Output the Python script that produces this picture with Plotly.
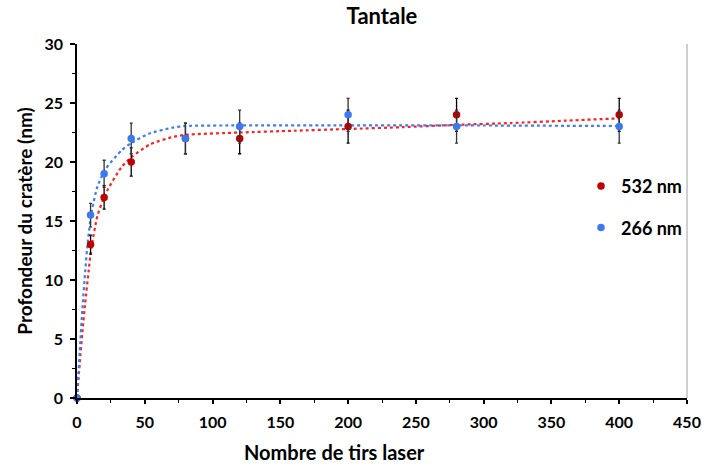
import plotly.graph_objects as go

# Measured data
shots = [0, 10, 20, 40, 80, 120, 200, 280, 400]
depth_532 = [0, 13, 17, 20, 22, 22, 23, 24, 24]
err_532 = [0, 0.8, 1.0, 1.2, 1.3, 1.3, 1.4, 1.4, 1.4]
depth_266 = [0, 15.5, 19, 22, 22, 23, 24, 23, 23]
err_266 = [0, 1.0, 1.15, 1.3, 1.3, 1.4, 1.4, 1.4, 1.4]

# Trend curves
fit_532_x = [0, 1, 2, 4, 6, 8.6, 10, 11, 15, 21, 33, 40, 54, 70, 80, 120, 160, 200, 240, 280, 320, 360, 400]
fit_532_y = [0, 1.5, 2.9, 5.6, 8.0, 10.8, 12.2, 13.0, 15.4, 17.3, 19.6, 20.4, 21.5, 22.1, 22.3, 22.5, 22.65, 22.8, 22.95, 23.15, 23.3, 23.5, 23.7]
fit_266_x = [0, 1, 2, 4, 6.1, 8, 11, 15, 21, 33, 40, 53, 70, 80, 120, 200, 280, 400]
fit_266_y = [0, 2.0, 3.9, 7.6, 10.8, 13.3, 15.9, 17.9, 19.4, 21.0, 21.6, 22.4, 22.9, 23.05, 23.1, 23.1, 23.1, 23.05]

FONT = "Lato"

fig = go.Figure()
fig.add_trace(go.Scatter(x=fit_532_x, y=fit_532_y, mode="lines",
                         line=dict(color="#FF2020", width=2.2, dash="dot", shape="spline", smoothing=0.6),
                         showlegend=False, hoverinfo="skip", cliponaxis=False))
fig.add_trace(go.Scatter(x=fit_266_x, y=fit_266_y, mode="lines",
                         line=dict(color="#3F7BF2", width=2.2, dash="dot", shape="spline", smoothing=0.6),
                         showlegend=False, hoverinfo="skip", cliponaxis=False))
fig.add_trace(go.Scatter(x=shots, y=depth_532, mode="markers", name="532 nm",
                         marker=dict(color="#C00000", size=7.5),
                         error_y=dict(type="data", array=err_532, color="black", thickness=1.3, width=1.5),
                         legendgroup="a", legendrank=1, cliponaxis=False))
fig.add_trace(go.Scatter(x=shots, y=depth_266, mode="markers", name="266 nm",
                         marker=dict(color="#3C78F0", size=7.5),
                         error_y=dict(type="data", array=err_266, color="#333333", thickness=1.3, width=1.5),
                         legendgroup="b", legendrank=2, cliponaxis=False))

bold = dict(family=FONT, weight="bold", color="black")

fig.update_layout(
    width=702, height=464,
    margin=dict(l=77, r=15, t=44, b=66, autoexpand=False),
    paper_bgcolor="white", plot_bgcolor="white",
    font=dict(family=FONT, color="black"),
    title=dict(text="Tantale", x=0.5, xref="paper", xanchor="center",
               y=1 - 16 / 464, yanchor="middle", font=dict(size=22, **bold)),
    legend=dict(x=1.0, xanchor="right", y=0.65, yanchor="top",
                font=dict(size=18, **bold), traceorder="grouped",
                tracegroupgap=15, itemwidth=30, bgcolor="rgba(0,0,0,0)"),
    xaxis=dict(range=[0, 450], dtick=50, showgrid=False, zeroline=False, automargin=False,
               showline=True, linecolor="black", linewidth=2,
               ticks="outside", ticklen=4, tickwidth=1.5, tickcolor="black",
               tickfont=dict(size=16, **bold), ticklabelstandoff=5,
               minor=dict(dtick=25, ticks="outside", ticklen=3, tickcolor="black", tickwidth=1)),
    yaxis=dict(range=[0, 30], dtick=5, showgrid=False, zeroline=False, automargin=False,
               showline=True, linecolor="black", linewidth=1.5,
               ticks="outside", ticklen=5, tickwidth=1.5, tickcolor="black",
               tickfont=dict(size=16, **bold), ticklabelstandoff=4,
               title=dict(text="Profondeur du cratère (nm)", font=dict(size=19, **bold), standoff=7),
               minor=dict(dtick=2.5, ticks="outside", ticklen=3, tickcolor="black", tickwidth=1)),
    annotations=[dict(text="Nombre de tirs laser", xref="paper", yref="paper",
                      x=(334 - 77) / 610, y=-(452 - 398) / 354, xanchor="center", yanchor="middle",
                      showarrow=False, font=dict(size=20, **bold))],
    shapes=[dict(type="line", xref="paper", yref="paper", x0=1, x1=1, y0=0, y1=1.0,
                 line=dict(color="#A0A0A0", width=1))],
)

fig.write_html("out.html", config={"displayModeBar": False},
               post_script="document.body.style.margin='0';document.body.style.overflow='hidden';")
